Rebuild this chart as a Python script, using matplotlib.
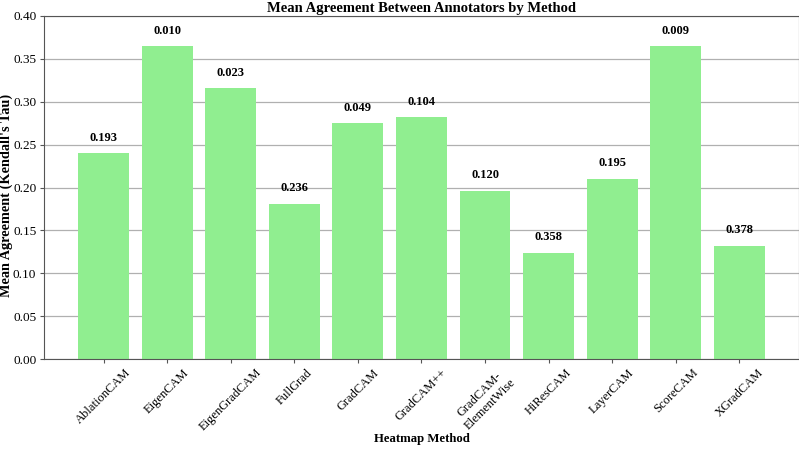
import matplotlib
matplotlib.use("Agg")
import matplotlib.pyplot as plt

plt.rcParams['font.family'] = ['Liberation Serif', 'DejaVu Serif']

methods = ['AblationCAM', 'EigenCAM', 'EigenGradCAM', 'FullGrad', 'GradCAM',
           'GradCAM++', 'GradCAM-\nElementWise', 'HiResCAM', 'LayerCAM',
           'ScoreCAM', 'XGradCAM']
mean_tau = [0.240, 0.365, 0.316, 0.181, 0.275, 0.282, 0.196, 0.124, 0.210,
            0.365, 0.132]
p_values = ['0.193', '0.010', '0.023', '0.236', '0.049', '0.104', '0.120',
            '0.358', '0.195', '0.009', '0.378']

fig = plt.figure(figsize=(7.99, 4.49), dpi=100)
ax = fig.add_axes([0.055, 0.2004, 0.945, 0.764])

x = list(range(len(methods)))
bars = ax.bar(x, mean_tau, width=0.8, color='#90EE90')

#### p-value labels above each bar
for b, p in zip(bars, p_values):
    ax.text(b.get_x() + b.get_width() / 2, b.get_height() + 0.011, p,
            ha='center', va='bottom', fontsize=9, fontweight='bold')

ax.set_ylim(0, 0.40)
ax.set_yticks([0.0, 0.05, 0.10, 0.15, 0.20, 0.25, 0.30, 0.35, 0.40])
ax.set_xticks(x)
ax.set_xticklabels(methods, rotation=45, fontsize=9)
ax.tick_params(axis='y', labelsize=9.5)
ax.tick_params(colors='#555555', labelcolor='black', length=3, pad=2.5)
for s in ax.spines.values():
    s.set_color('#555555')

ax.yaxis.grid(True, color='#b0b0b0', linewidth=0.9)
ax.set_axisbelow(True)

ax.set_title('Mean Agreement Between Annotators by Method', fontsize=10.5,
             fontweight='bold', pad=3)
ax.set_xlabel('Heatmap Method', fontsize=9.2, fontweight='bold')
ax.set_ylabel("Mean Agreement (Kendall's Tau)", fontsize=10.3, fontweight='bold')
ax.yaxis.set_label_coords(-0.041, 0.478)
ax.xaxis.set_label_coords(0.5, -0.215)

fig.savefig('out.png', dpi=100)
